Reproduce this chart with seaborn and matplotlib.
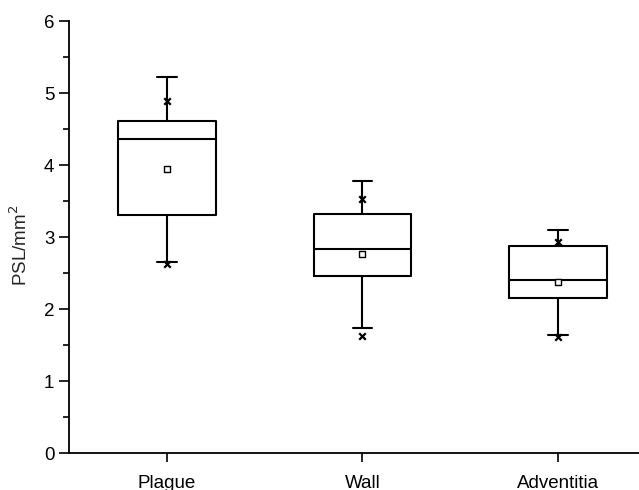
import matplotlib
matplotlib.use("Agg")
import matplotlib.pyplot as plt
import seaborn as sns
import pandas as pd
from matplotlib.ticker import MultipleLocator

categories = ["Plague", "Wall", "Adventitia"]
whisker_low = [2.66, 1.74, 1.64]
q1 = [3.31, 2.46, 2.16]
median = [4.36, 2.84, 2.40]
q3 = [4.61, 3.32, 2.87]
whisker_high = [5.23, 3.78, 3.10]
mean = [3.94, 2.76, 2.375]
extreme_low = [2.63, 1.62, 1.61]
extreme_high = [4.89, 3.53, 2.93]

sns.set_style("ticks")
plt.rcParams['font.family'] = ['Liberation Sans', 'DejaVu Sans']

fig = plt.figure(figsize=(6.39, 4.90), dpi=100)
ax = fig.add_axes([0.108, 0.0755, 0.892, 0.8815])

stats = []
for i, c in enumerate(categories):
    stats.append(dict(label=c, whislo=whisker_low[i], q1=q1[i], med=median[i],
                      q3=q3[i], whishi=whisker_high[i], fliers=[]))

lw = 1.5
ax.bxp(stats, positions=range(len(categories)), widths=0.5, showfliers=False,
       patch_artist=False, manage_ticks=False,
       boxprops=dict(color="black", linewidth=lw),
       medianprops=dict(color="black", linewidth=lw),
       whiskerprops=dict(color="black", linewidth=lw),
       capprops=dict(color="black", linewidth=lw),
       capwidths=0.1)

df_mean = pd.DataFrame({"x": range(len(categories)), "y": mean})
sns.scatterplot(data=df_mean, x="x", y="y", marker="s", s=18, facecolor="white",
                edgecolor="black", linewidth=1.0, ax=ax, zorder=5)
df_ext = pd.DataFrame({"x": list(range(len(categories))) * 2,
                       "y": extreme_low + extreme_high})
sns.scatterplot(data=df_ext, x="x", y="y", marker="x", s=22, color="black",
                linewidth=1.6, ax=ax, zorder=5)

fs = 13.5
ax.set_xlim(-0.5, 2.414)
ax.set_ylim(0, 6)
ax.set_xticks(range(len(categories)))
ax.set_xticklabels(categories, fontsize=fs)
ax.yaxis.set_major_locator(MultipleLocator(1))
ax.yaxis.set_minor_locator(MultipleLocator(0.5))
ax.tick_params(axis="both", which="major", direction="out", length=7.5, width=1.2,
               labelsize=fs, color="black", labelcolor="black")
ax.tick_params(axis="y", which="major", pad=3)
ax.tick_params(axis="y", which="minor", direction="out", length=4, width=1.2, color="black")
ax.tick_params(axis="x", which="major", length=6.5, pad=9)
ax.set_xlabel("")
ax.set_ylabel("PSL/mm$^2$", fontsize=fs)
ax.yaxis.set_label_coords(-0.066, 0.48)
sns.despine(ax=ax)
for s in ["left", "bottom"]:
    ax.spines[s].set_linewidth(1.3)
    ax.spines[s].set_color("black")

fig.savefig("out.png", dpi=100)
